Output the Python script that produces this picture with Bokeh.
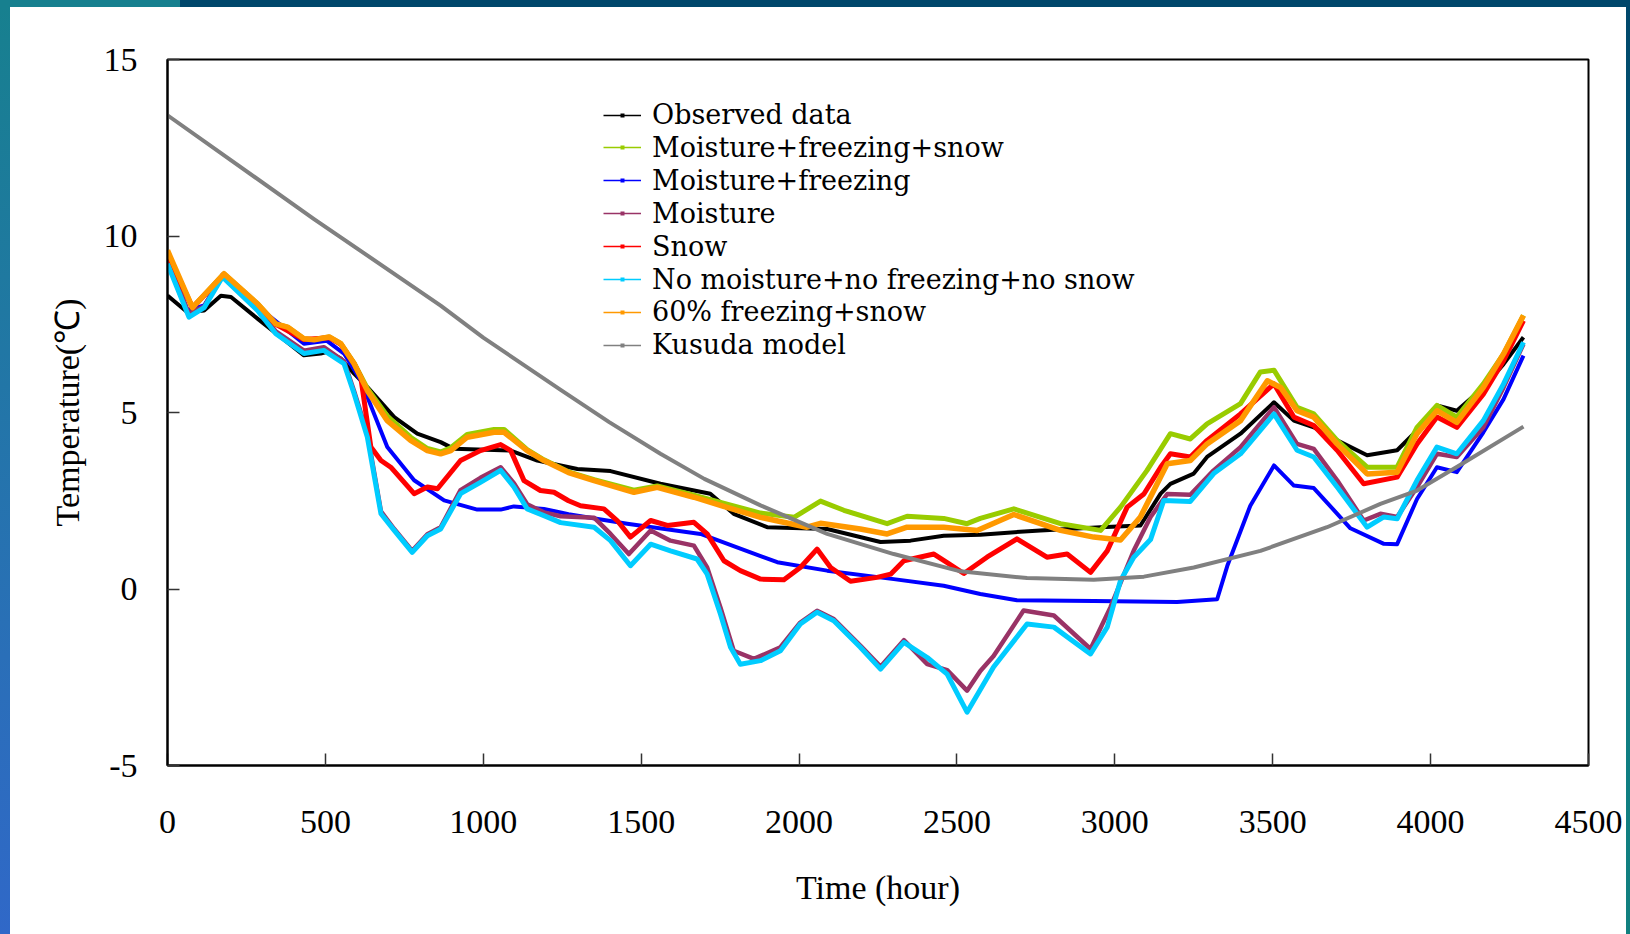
from bokeh.plotting import figure
from bokeh.layouts import column, row
from bokeh.models import Range1d, FixedTicker, Legend, LegendItem, PrintfTickFormatter, Div
from bokeh.embed import file_html
from bokeh.resources import INLINE

# ---------------- data (hours, °C) ----------------
x_ticks = [0, 500, 1000, 1500, 2000, 2500, 3000, 3500, 4000, 4500]
y_ticks = [-5, 0, 5, 10, 15]

series_names = ["Observed data", "Moisture+freezing+snow", "Moisture+freezing", "Moisture",
                "Snow", "No moisture+no freezing+no snow", "60% freezing+snow", "Kusuda model"]
series_colors = ["#000000", "#99CC00", "#0000FF", "#993366", "#FF0000", "#00CCFF", "#FF9900", "#808080"]

obs_t = [0, 63, 116, 169, 201, 285, 338, 432, 485, 506, 549, 591, 633, 718, 791, 865, 907, 1087, 1171,
         1245, 1298, 1403, 1561, 1719, 1793, 1899, 2089, 2258, 2353, 2458, 2574, 2764, 2955, 3081, 3145,
         3176, 3250, 3292, 3398, 3504, 3567, 3630, 3704, 3799, 3894, 3957, 4020, 4083, 4167, 4231, 4294]
obs_T = [8.31, 7.84, 7.89, 8.31, 8.27, 7.66, 7.28, 6.62, 6.67, 6.72, 6.53, 6.10, 5.72, 4.87, 4.40, 4.16,
         3.97, 3.92, 3.64, 3.50, 3.40, 3.34, 2.98, 2.70, 2.13, 1.75, 1.70, 1.33, 1.37, 1.51, 1.54, 1.66,
         1.75, 1.80, 2.70, 2.98, 3.27, 3.74, 4.40, 5.29, 4.77, 4.58, 4.21, 3.79, 3.93, 4.49, 5.20, 5.05,
         5.71, 6.37, 7.13]

mfs_t = [0, 79, 179, 285, 343, 380, 432, 464, 512, 549, 591, 633, 696, 770, 823, 865, 897, 949, 1034,
         1066, 1139, 1192, 1270, 1351, 1477, 1551, 1667, 1772, 1878, 1984, 2068, 2142, 2279, 2342, 2458,
         2532, 2574, 2680, 2828, 2955, 3018, 3102, 3176, 3239, 3292, 3398, 3461, 3504, 3577, 3630, 3704,
         3799, 3894, 3957, 4020, 4083, 4167, 4231, 4294]
mfs_T = [9.5, 7.97, 8.93, 8.08, 7.51, 7.42, 7.09, 7.06, 7.14, 6.95, 6.4, 5.68, 4.9, 4.3, 3.98, 3.88, 4.0,
         4.38, 4.52, 4.52, 3.95, 3.66, 3.32, 3.10, 2.80, 2.92, 2.66, 2.40, 2.15, 2.03, 2.49, 2.23, 1.85,
         2.06, 2.0, 1.85, 2.0, 2.27, 1.85, 1.66, 2.32, 3.36, 4.40, 4.25, 4.68, 5.25, 6.15, 6.20, 5.15, 4.96,
         4.21, 3.45, 3.45, 4.58, 5.20, 4.87, 5.81, 6.66, 7.75]

mf_t = [0, 63, 116, 174, 285, 432, 505, 559, 612, 696, 781, 876, 981, 1055, 1097, 1192, 1270, 1456, 1688,
        1931, 2089, 2300, 2458, 2574, 2690, 2933, 3197, 3324, 3356, 3429, 3504, 3567, 3630, 3746, 3852,
        3894, 3957, 4020, 4083, 4167, 4231, 4294]
mf_T = [9.4, 7.89, 8.03, 8.88, 8.0, 6.95, 7.03, 6.67, 5.91, 4.02, 3.08, 2.51, 2.25, 2.25, 2.34, 2.27, 2.12,
        1.85, 1.56, 0.76, 0.52, 0.28, 0.09, -0.14, -0.32, -0.34, -0.37, -0.29, 0.65, 2.36, 3.5, 2.93, 2.86,
        1.72, 1.28, 1.27, 2.55, 3.45, 3.31, 4.44, 5.38, 6.61]

moi_t = [0, 68, 116, 174, 285, 343, 432, 495, 559, 591, 633, 676, 718, 775, 823, 865, 928, 991, 1055, 1097,
         1139, 1192, 1245, 1351, 1403, 1461, 1530, 1593, 1667, 1709, 1751, 1793, 1857, 1941, 2004, 2057,
         2110, 2194, 2258, 2332, 2406, 2469, 2532, 2574, 2616, 2711, 2807, 2923, 2986, 3060, 3113, 3166,
         3239, 3313, 3398, 3504, 3577, 3630, 3704, 3788, 3841, 3894, 3957, 4020, 4083, 4167, 4231, 4294]
moi_T = [9.3, 7.8, 8.0, 8.9, 7.95, 7.3, 6.75, 6.85, 6.45, 5.6, 4.4, 2.2, 1.7, 1.08, 1.55, 1.75, 2.8, 3.15,
         3.45, 3.0, 2.4, 2.17, 2.06, 2.02, 1.56, 0.99, 1.66, 1.37, 1.23, 0.61, -0.52, -1.75, -1.98, -1.65,
         -0.95, -0.62, -0.85, -1.6, -2.2, -1.45, -2.13, -2.3, -2.88, -2.32, -1.9, -0.61, -0.75, -1.7, -0.52,
         1.09, 2.04, 2.69, 2.67, 3.36, 4.02, 5.15, 4.11, 3.97, 3.08, 1.94, 2.13, 2.04, 2.89, 3.83, 3.74,
         4.58, 5.71, 6.94]

snow_t = [0, 79, 179, 285, 343, 432, 512, 549, 591, 612, 644, 676, 707, 781, 823, 855, 928, 991, 1055,
          1087, 1129, 1181, 1224, 1270, 1308, 1382, 1424, 1466, 1530, 1583, 1667, 1709, 1762, 1814, 1878,
          1952, 2004, 2057, 2100, 2163, 2247, 2290, 2332, 2427, 2469, 2522, 2595, 2690, 2785, 2849, 2923,
          2976, 3039, 3092, 3145, 3176, 3239, 3292, 3398, 3504, 3567, 3630, 3704, 3788, 3894, 3957, 4020,
          4083, 4167, 4231, 4294]
snow_T = [9.5, 7.97, 8.9, 8.05, 7.5, 7.07, 7.12, 6.93, 6.38, 6.0, 4.02, 3.64, 3.45, 2.70, 2.89, 2.84, 3.64,
          3.92, 4.09, 3.92, 3.07, 2.79, 2.74, 2.5, 2.36, 2.27, 1.94, 1.47, 1.94, 1.80, 1.89, 1.56, 0.80,
          0.52, 0.28, 0.26, 0.61, 1.13, 0.61, 0.22, 0.33, 0.42, 0.80, 0.99, 0.75, 0.44, 0.9, 1.42, 0.9,
          0.99, 0.47, 1.08, 2.32, 2.69, 3.45, 3.83, 3.74, 4.21, 4.96, 5.81, 4.87, 4.63, 3.93, 2.98, 3.17,
          4.11, 4.87, 4.58, 5.52, 6.47, 7.6]

none_t = [0, 68, 116, 174, 285, 343, 432, 495, 559, 591, 633, 676, 718, 775, 823, 865, 928, 991, 1055,
          1097, 1139, 1192, 1245, 1351, 1403, 1466, 1530, 1593, 1677, 1709, 1751, 1783, 1814, 1878, 1941,
          2004, 2057, 2110, 2194, 2258, 2332, 2406, 2469, 2532, 2616, 2722, 2807, 2923, 2976, 3018, 3060,
          3113, 3155, 3239, 3313, 3398, 3504, 3577, 3630, 3704, 3799, 3852, 3894, 3957, 4020, 4083, 4167,
          4231, 4294]
none_T = [9.21, 7.70, 7.97, 8.84, 7.89, 7.23, 6.67, 6.76, 6.38, 5.53, 4.30, 2.13, 1.66, 1.04, 1.51, 1.70,
          2.70, 3.02, 3.36, 2.89, 2.27, 2.08, 1.88, 1.75, 1.37, 0.66, 1.27, 1.08, 0.85, 0.42, -0.71, -1.65,
          -2.13, -2.03, -1.75, -0.99, -0.66, -0.90, -1.65, -2.27, -1.51, -1.94, -2.41, -3.49, -2.21, -0.99,
          -1.08, -1.84, -1.08, 0.24, 0.90, 1.4, 2.51, 2.48, 3.27, 3.83, 4.96, 3.93, 3.74, 2.89, 1.75, 2.04,
          1.99, 3.08, 4.02, 3.83, 4.77, 5.81, 6.99]

f60_t = [0, 79, 179, 285, 343, 380, 432, 464, 512, 549, 591, 633, 696, 770, 823, 865, 897, 949, 1034, 1066,
         1139, 1192, 1270, 1351, 1477, 1551, 1667, 1772, 1878, 2025, 2068, 2194, 2279, 2342, 2458, 2564,
         2680, 2828, 2933, 3018, 3081, 3166, 3239, 3292, 3398, 3483, 3525, 3577, 3630, 3704, 3799, 3894,
         3957, 4020, 4083, 4167, 4231, 4294]
f60_T = [9.59, 7.97, 8.93, 8.08, 7.51, 7.42, 7.09, 7.06, 7.14, 6.95, 6.38, 5.62, 4.77, 4.21, 3.92, 3.83,
         3.92, 4.30, 4.44, 4.44, 3.92, 3.64, 3.30, 3.07, 2.74, 2.88, 2.60, 2.31, 2.03, 1.75, 1.86, 1.70,
         1.56, 1.75, 1.75, 1.66, 2.11, 1.66, 1.47, 1.39, 2.04, 3.55, 3.64, 4.11, 4.77, 5.90, 5.71, 5.05,
         4.87, 4.11, 3.26, 3.31, 4.40, 5.05, 4.72, 5.71, 6.66, 7.75]

kus_t = [0, 464, 865, 1000, 1245, 1400, 1561, 1700, 1878, 2089, 2300, 2511, 2722, 2933, 3092, 3250, 3461,
         3672, 3841, 3957, 4100, 4294]
kus_T = [13.42, 10.48, 8.03, 7.12, 5.64, 4.72, 3.83, 3.12, 2.37, 1.56, 0.99, 0.50, 0.31, 0.26, 0.35, 0.61,
         1.08, 1.75, 2.41, 2.79, 3.55, 4.6]

series_t = [obs_t, mfs_t, mf_t, moi_t, snow_t, none_t, f60_t, kus_t]
series_T = [obs_T, mfs_T, mf_T, moi_T, snow_T, none_T, f60_T, kus_T]
series_widths = [4, 5, 4, 4.5, 5, 5, 5.5, 4]

FONT = "Liberation Serif"
LEGEND_FONT = "DejaVu Serif"

# ---------------- slide frame strips (pure CSS decoration) ----------------
top_bar = Div(text="", width=1630, height=7, margin=0,
              styles={"background": "linear-gradient(to right, #17808F 0px, #17808F 180px, #00476B 180px, #00476B 100%)",
                      "width": "1630px", "height": "7px"})
left_bar = Div(text="", width=10, height=927, margin=0,
               styles={"background": "linear-gradient(to bottom, #17808F, #2A6FB8 70%, #3068C8)",
                       "width": "10px", "height": "927px"})
right_bar = Div(text="", width=4, height=927, margin=0,
                styles={"background": "linear-gradient(to bottom, #00476B, #0E7C86 60%, #11807F)",
                        "width": "4px", "height": "927px"})

# ---------------- main chart ----------------
p = figure(width=1616, height=927, output_backend="svg", toolbar_location=None,
           x_range=Range1d(0, 4500), y_range=Range1d(-5, 15), margin=0,
           min_border_left=157, min_border_right=38, min_border_top=52, min_border_bottom=169,
           x_axis_label="Time (hour)", y_axis_label="Temperature(℃)")
p.grid.visible = False
p.background_fill_color = "white"
p.border_fill_color = "white"
p.outline_line_color = "black"
p.outline_line_width = 2

for ax in (p.xaxis[0], p.yaxis[0]):
    ax.axis_line_color = "black"
    ax.axis_line_width = 2
    ax.major_tick_in = 12
    ax.major_tick_out = 0
    ax.major_tick_line_color = "#333333"
    ax.major_tick_line_width = 1.5
    ax.minor_tick_line_color = None
    ax.major_label_text_font = FONT
    ax.major_label_text_font_size = "34px"
    ax.major_label_text_color = "black"
    ax.axis_label_text_font = FONT
    ax.axis_label_text_font_size = "34px"
    ax.axis_label_text_font_style = "normal"
    ax.axis_label_text_color = "black"
    ax.formatter = PrintfTickFormatter(format="%d")

p.xaxis.ticker = FixedTicker(ticks=x_ticks)
p.yaxis.ticker = FixedTicker(ticks=y_ticks)
p.xaxis.major_label_standoff = 45
p.xaxis.axis_label_standoff = 33
p.yaxis.major_label_standoff = 30
p.yaxis.axis_label_standoff = 15

for t, T, c, w in zip(series_t, series_T, series_colors, series_widths):
    p.line(t, T, line_color=c, line_width=w, line_join="round")

# legend: one single-row legend per entry so the row pitch can match the original
row_pitch = 32.9
first_row_from_bottom = 635
for i, (name, c) in enumerate(zip(series_names, series_colors)):
    lr = p.line(x=[-9999, -9998], y=[-9999, -9999], line_color=c, line_width=1.5)
    mr = p.line(x=[-9999, -9998], y=[-9999, -9999], line_color=c, line_width=4, line_cap="butt",
                line_dash="0 17 4 100")
    lg = Legend(items=[LegendItem(label=name, renderers=[lr, mr])],
                location=(436, first_row_from_bottom - row_pitch * i),
                glyph_width=38, glyph_height=30, label_height=30,
                spacing=0, padding=0, margin=0, label_standoff=11, border_line_color=None,
                background_fill_alpha=0, label_text_font=LEGEND_FONT, label_text_font_size="27px",
                label_text_color="black")
    p.add_layout(lg)

layout = column(top_bar, row(left_bar, p, right_bar, spacing=0), spacing=0)

open("out.html", "w").write(file_html(layout, INLINE))
